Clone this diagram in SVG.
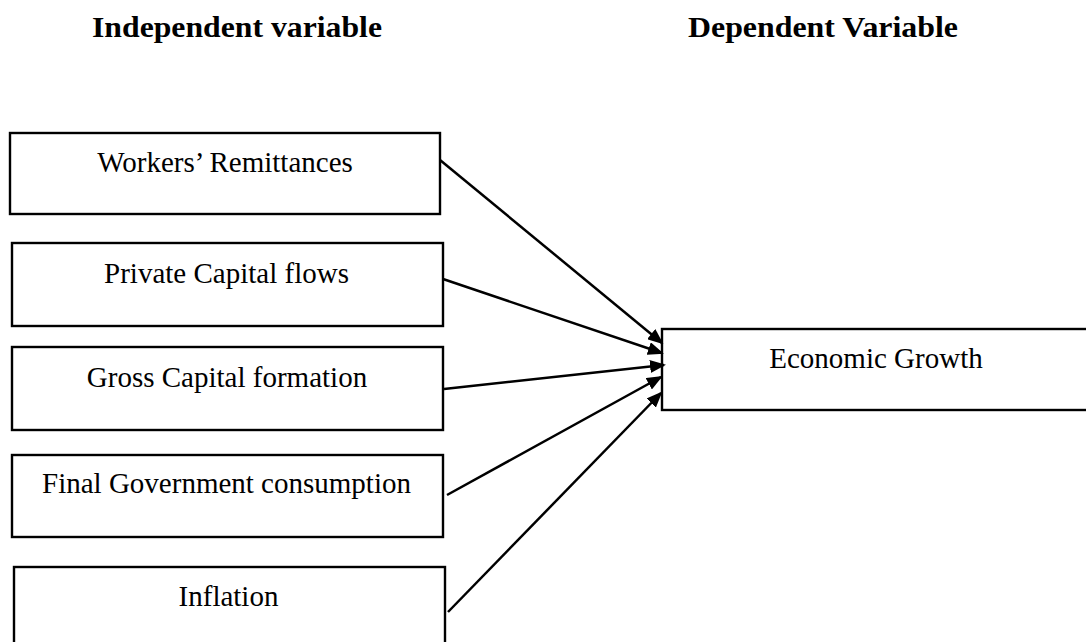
<svg xmlns="http://www.w3.org/2000/svg" width="1086" height="642" viewBox="0 0 1086 642">
<style>
.box{fill:#fff;stroke:#000;stroke-width:2.4}
.lbl{font-family:"Liberation Serif","Times New Roman",serif;font-size:29px;fill:#000;text-anchor:middle}
.title{font-family:"Liberation Serif","Times New Roman",serif;font-size:29px;font-weight:bold;fill:#000}
.conn{stroke:#000;stroke-width:2.5;fill:none;marker-end:url(#ah)}
</style>
<defs>
<marker id="ah" markerUnits="userSpaceOnUse" markerWidth="16" markerHeight="13" refX="14" refY="6.5" orient="auto">
<path d="M0,0 L16,6.5 L0,13 z" fill="#000"/>
</marker>
</defs>
<rect width="1086" height="642" fill="#fff"/>
<g id="titles">
<text class="title" x="92" y="37" textLength="290" lengthAdjust="spacingAndGlyphs">Independent variable</text>
<text class="title" x="688" y="37" textLength="270" lengthAdjust="spacingAndGlyphs">Dependent Variable</text>
</g>
<g id="n1"><rect class="box" x="10" y="133" width="430" height="81"/><text class="lbl" x="225" y="172">Workers’ Remittances</text></g>
<g id="n2"><rect class="box" x="12" y="243" width="431" height="83"/><text class="lbl" x="226.5" y="283">Private Capital flows</text></g>
<g id="n3"><rect class="box" x="12" y="347" width="431" height="83"/><text class="lbl" x="227" y="387">Gross Capital formation</text></g>
<g id="n4"><rect class="box" x="12" y="455" width="431" height="82"/><text class="lbl" x="226.5" y="493">Final Government consumption</text></g>
<g id="n5"><rect class="box" x="14" y="567" width="431" height="90"/><text class="lbl" x="228.5" y="606">Inflation</text></g>
<g id="n6"><rect class="box" x="662" y="329" width="440" height="81"/><text class="lbl" x="876" y="368">Economic Growth</text></g>
<g id="connectors">
<line class="conn" x1="440" y1="160" x2="662" y2="343"/>
<line class="conn" x1="443" y1="279" x2="662" y2="353"/>
<line class="conn" x1="444" y1="389" x2="664" y2="365"/>
<line class="conn" x1="447" y1="495" x2="661" y2="377"/>
<line class="conn" x1="448" y1="612" x2="661" y2="393"/>
</g>
</svg>
